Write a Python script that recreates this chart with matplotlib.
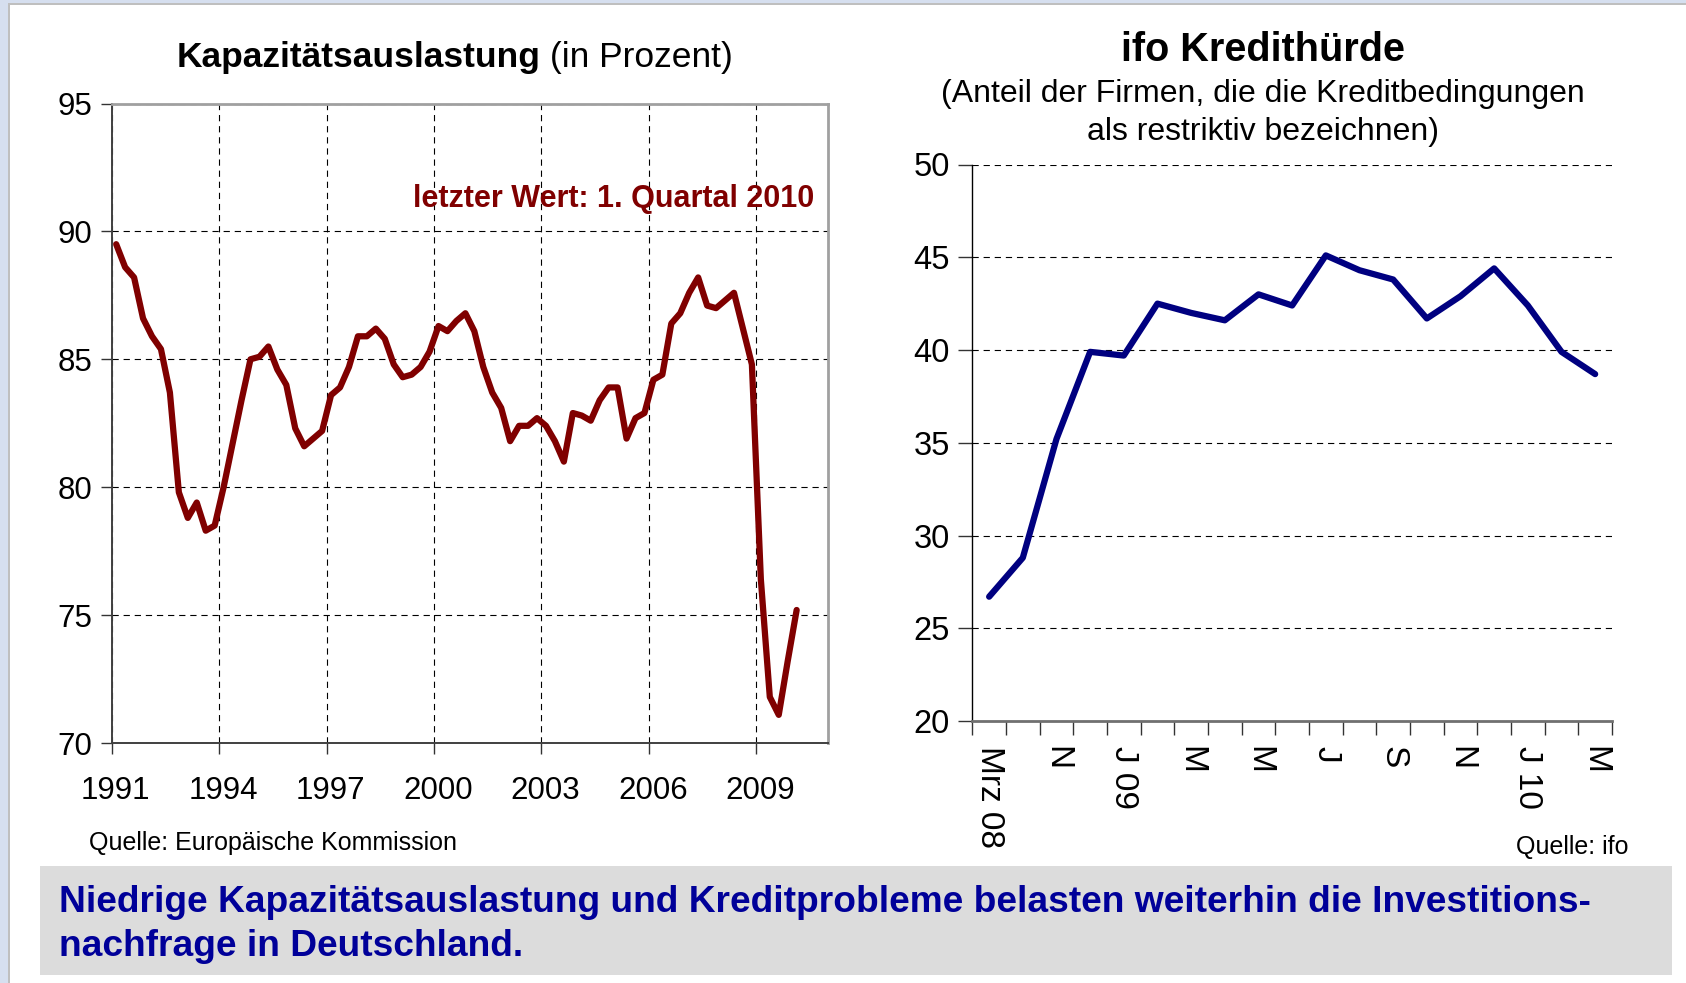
import matplotlib
matplotlib.use("Agg")
import matplotlib.pyplot as plt
import matplotlib.patches as mpatches
import matplotlib.transforms as mtransforms
import numpy as np
import pandas as pd

plt.rcParams['font.family'] = ['Liberation Sans', 'DejaVu Sans']
plt.rcParams['lines.scale_dashes'] = False

# ---------------- data ----------------
# Kapazitätsauslastung, quarterly 1991Q1 .. 2010Q1 (in Prozent)
cap_start = "1991Q1"
cap_end = "2010Q1"
cap_values = [
    89.5, 88.6, 88.2, 86.6, 85.9, 85.4, 83.7, 79.8,
    78.8, 79.4, 78.3, 78.5, 80.0, 81.7, 83.4, 85.0,
    85.1, 85.5, 84.6, 84.0, 82.3, 81.6, 81.9, 82.2,
    83.6, 83.9, 84.7, 85.9, 85.9, 86.2, 85.8, 84.8,
    84.3, 84.4, 84.7, 85.3, 86.3, 86.1, 86.5, 86.8,
    86.1, 84.7, 83.7, 83.1, 81.8, 82.4, 82.4, 82.7,
    82.4, 81.8, 81.0, 82.9, 82.8, 82.6, 83.4, 83.9,
    83.9, 81.9, 82.7, 82.9, 84.2, 84.4, 86.4, 86.8,
    87.6, 88.2, 87.1, 87.0, 87.3, 87.6, 86.2, 84.8,
    76.4, 71.8, 71.1, 73.2, 75.2,
]
cap_year_ticks = [1991, 1994, 1997, 2000, 2003, 2006, 2009]
cap_y_ticks = [70, 75, 80, 85, 90, 95]

# ifo Kredithürde (Anteil der Firmen in %)
ifo_labels = ["Mrz 08", "", "N", "", "J 09", "", "M", "", "M", "",
              "J", "", "S", "", "N", "", "J 10", "", "M"]
ifo_values = [26.7, 28.8, 35.2, 39.9, 39.7, 42.5, 42.0, 41.6, 43.0, 42.4,
              45.1, 44.3, 43.8, 41.7, 42.9, 44.4, 42.4, 39.9, 38.7]
ifo_y_ticks = [20, 25, 30, 35, 40, 45, 50]

# ---------------- figure ----------------
W, H = 1686, 983
fig = plt.figure(figsize=(W / 100, H / 100), dpi=100)
fig.patch.set_facecolor("white")

def px_rect(x0, y0, x1, y1, color, z=0):
    r = mpatches.Rectangle((x0 / W, 1 - y1 / H), (x1 - x0) / W, (y1 - y0) / H,
                           transform=fig.transFigure, facecolor=color,
                           edgecolor="none", zorder=z)
    fig.patches.append(r)

# slide border
px_rect(0, 0, 8, H, "#D6DFEF")
px_rect(0, 0, W, 3, "#D6DFEF")
px_rect(8, 3, 10, H, "#BFBFBF")
px_rect(8, 3, W, 5, "#BFBFBF")

dash = (0, (4.5, 3.5))
red = "#800000"
navy = "#000080"

# ---------------- left chart ----------------
ax1 = fig.add_axes([111.7 / W, 1 - 743 / H, (828 - 111.7) / W, (743 - 103.5) / H])
periods = pd.period_range(cap_start, cap_end, freq="Q")
cap_x = periods.year + (periods.quarter - 1) / 4 + 0.125
ax1.plot(cap_x, cap_values, color=red, lw=4.5, solid_joinstyle="round",
         solid_capstyle="round", zorder=3)
ax1.set_xlim(1991, 2011)
ax1.set_ylim(70, 95)
ax1.set_xticks(cap_year_ticks)
ax1.set_xticklabels([str(y) for y in cap_year_ticks])
ax1.set_yticks(cap_y_ticks)
ax1.set_axisbelow(True)
ax1.grid(True, color="black", lw=0.8, linestyle=dash)
ax1.tick_params(direction="out", length=8, width=1, labelsize=22.5, pad=6,
                color="#333333")
ax1.tick_params(axis="x", pad=16)
shift = mtransforms.ScaledTranslation(0.04, 0, fig.dpi_scale_trans)
for lab in ax1.get_xticklabels():
    lab.set_transform(lab.get_transform() + shift)
for s in ["left", "bottom"]:
    ax1.spines[s].set_color("#404040")
    ax1.spines[s].set_linewidth(1.4)
for s in ["right", "top"]:
    ax1.spines[s].set_color("#A0A0A0")
    ax1.spines[s].set_linewidth(2.0)

split = 540.5 / W
fig.text(split, 1 - 57 / H, "Kapazitätsauslastung", fontsize=25.5,
         fontweight="bold", ha="right", va="center")
fig.text(split, 1 - 57 / H, " (in Prozent)", fontsize=25.5,
         ha="left", va="center")
fig.text(814 / W, 1 - 199 / H, "letzter Wert: 1. Quartal 2010", fontsize=22,
         fontweight="bold", color=red, ha="right", va="center")
fig.text(89 / W, 1 - 843 / H, "Quelle: Europäische Kommission", fontsize=18,
         ha="left", va="center")

# ---------------- right chart ----------------
ax2 = fig.add_axes([972.3 / W, 1 - 721 / H, (1612 - 972.3) / W, (721 - 164.5) / H])
cats = np.arange(len(ifo_values))
ax2.plot(cats, ifo_values, color=navy, lw=4.5, solid_joinstyle="round",
         solid_capstyle="round", zorder=3)
ax2.set_xlim(-0.5, len(ifo_values) - 0.5)
ax2.set_ylim(20, 50)
ax2.set_yticks(ifo_y_ticks)
ax2.set_xticks(np.arange(len(ifo_values) + 1) - 0.5)
ax2.set_xticklabels([])
ax2.set_xticks(cats, ifo_labels, minor=True)
ax2.tick_params(axis="x", which="major", direction="out", length=10, width=1,
                color="#333333")
ax2.tick_params(axis="x", which="minor", length=0, labelsize=24, pad=18,
                labelrotation=-90)
ax2.tick_params(axis="y", direction="out", length=10, width=1, labelsize=23.5,
                pad=6, color="#333333")
for lab in ax2.get_xticklabels(minor=True):
    lab.set_va("top")
    lab.set_ha("center")
ax2.set_axisbelow(True)
ax2.yaxis.grid(True, color="black", lw=0.8, linestyle=dash)
ax2.spines["right"].set_visible(False)
ax2.spines["top"].set_visible(False)
ax2.spines["left"].set_color("black")
ax2.spines["left"].set_linewidth(1.0)
ax2.spines["bottom"].set_color("#707070")
ax2.spines["bottom"].set_linewidth(2.0)

fig.text(1263 / W, 1 - 50 / H, "ifo Kredithürde", fontsize=28.5,
         fontweight="bold", ha="center", va="center")
fig.text(1263 / W, 1 - 94 / H, "(Anteil der Firmen, die die Kreditbedingungen",
         fontsize=23, ha="center", va="center")
fig.text(1263 / W, 1 - 132 / H, "als restriktiv bezeichnen)",
         fontsize=23, ha="center", va="center")
fig.text(1629 / W, 1 - 847 / H, "Quelle: ifo", fontsize=18, ha="right",
         va="center")

# ---------------- bottom box ----------------
px_rect(40, 866, 1672, 975, "#DCDCDC", z=1)
fig.text(59 / W, 1 - 902 / H,
         "Niedrige Kapazitätsauslastung und Kreditprobleme belasten weiterhin die Investitions-",
         fontsize=26.7, fontweight="bold", color="#000099", ha="left",
         va="center", zorder=2)
fig.text(59 / W, 1 - 946 / H, "nachfrage in Deutschland.", fontsize=26.7,
         fontweight="bold", color="#000099", ha="left", va="center", zorder=2)

fig.savefig("out.png", dpi=100)
